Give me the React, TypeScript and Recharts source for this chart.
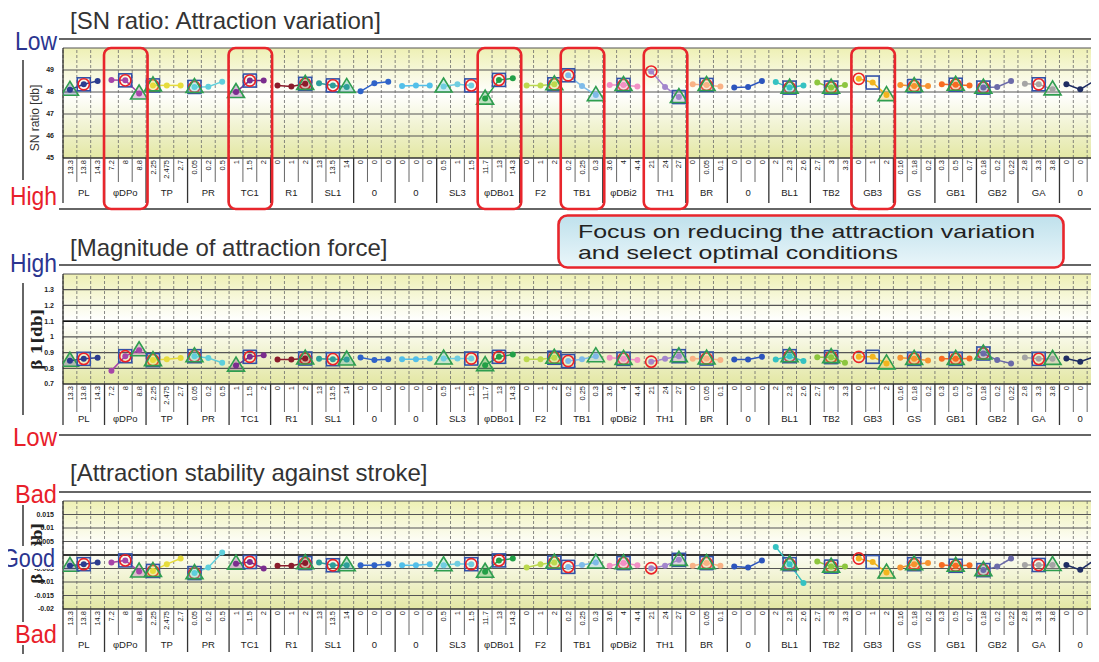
import React from "react";
import { LineChart, Line, XAxis, YAxis, CartesianGrid, ReferenceLine } from "recharts";

// ---------------- DATA ----------------
const factors = ["PL","φDPo","TP","PR","TC1","R1","SL1","0","0","SL3","φDBo1","F2","TB1","φDBi2","TH1","BR","0","BL1","TB2","GB3","GS","GB1","GB2","GA","0"];

const levelLabels = [
  ["13.3","13.8","14.3"],["7.2","8","8.8"],["2.25","2.475","2.7"],["0.05","0.2","0.5"],
  ["1","1.5","2"],["0","1","2"],["13","13.5","14"],["0","0","0"],["0","0","0"],
  ["0.5","1","1.5"],["11.7","13","14.3"],["0","1","2"],["0.2","0.25","0.3"],
  ["3.6","4","4.4"],["21","24","27"],["0","0.05","0.1"],["0","0","0"],
  ["2","2.3","2.6"],["2.7","3","3.3"],["0","1","2"],["0.16","0.18","0.2"],
  ["0.3","0.5","0.7"],["0.18","0.2","0.22"],["2.8","3.3","3.8"],["0","0","0"],
];

const snRatio = [
  [48.1,48.35,48.5],[48.55,48.53,47.93],[48.3,48.3,48.3],[48.23,48.24,48.47],
  [48.0,48.52,48.52],[48.3,48.25,48.37],[48.4,48.3,48.23],[48.03,48.4,48.47],
  [48.27,48.3,48.3],[48.25,48.35,48.3],[47.7,48.55,48.62],[48.3,48.3,48.35],
  [48.76,48.27,47.86],[48.32,48.32,48.25],[48.93,48.23,47.77],[48.35,48.32,48.25],
  [48.2,48.23,48.5],[48.45,48.2,48.3],[48.43,48.2,48.32],[48.6,48.43,47.86],
  [48.32,48.27,48.27],[48.35,48.33,48.3],[48.2,48.23,48.5],[48.38,48.35,48.12],
  [48.35,48.12,48.5],
];

const beta1 = [
  [0.848,0.86,0.867],[0.785,0.877,0.915],[0.852,0.858,0.865],[0.877,0.865,0.835],
  [0.817,0.873,0.883],[0.856,0.856,0.862],[0.86,0.858,0.856],[0.869,0.852,0.858],
  [0.858,0.858,0.862],[0.862,0.862,0.862],[0.82,0.873,0.888],[0.858,0.858,0.867],
  [0.846,0.858,0.877],[0.867,0.86,0.852],[0.842,0.86,0.877],[0.86,0.862,0.852],
  [0.856,0.856,0.873],[0.856,0.877,0.846],[0.871,0.871,0.835],[0.873,0.873,0.831],
  [0.867,0.86,0.85],[0.86,0.86,0.862],[0.894,0.852,0.831],[0.869,0.86,0.86],
  [0.862,0.842,0.873],
];

const stability = [
  [-0.004,-0.0034,-0.0028],[-0.0028,-0.002,-0.0061],[-0.0059,-0.0034,-0.0013],[-0.0067,-0.0046,0.0009],
  [-0.0032,-0.0026,-0.005],[-0.004,-0.004,-0.003],[-0.0028,-0.0038,-0.0038],[-0.0038,-0.0038,-0.0034],
  [-0.0038,-0.0038,-0.0034],[-0.0038,-0.0032,-0.0034],[-0.0062,-0.002,-0.0013],[-0.0046,-0.0034,-0.0028],
  [-0.0044,-0.0037,-0.0028],[-0.004,-0.003,-0.0038],[-0.0049,-0.004,-0.0018],[-0.004,-0.003,-0.004],
  [-0.0043,-0.0046,-0.002],[0.003,-0.0034,-0.0104],[-0.0024,-0.0043,-0.0043],[-0.0013,-0.0026,-0.0065],
  [-0.0046,-0.0034,-0.003],[-0.0037,-0.004,-0.0038],[-0.0056,-0.0043,-0.0013],[-0.0037,-0.0037,-0.0037],
  [-0.0037,-0.0055,-0.002],
];

// marker levels per factor (-1 = none)
const triLevel =  [0,2,0,0,0,2,2,-1,-1,0,0,2,2,1,2,1,-1,1,1,2,1,1,0,2,-1];
const sqLevel =   [1,1,0,0,1,2,1,-1,-1,2,1,2,0,1,2,1,-1,1,1,1,1,1,0,1,-1];
const circLevel = [1,1,0,0,1,2,1,-1,-1,2,1,2,0,1,0,1,-1,1,1,0,1,1,0,1,-1];

const highlighted = [1,4,10,12,14,19];

const factorColors = ["#2c3d8f","#a645a8","#e6dc3c","#5fcfdc","#7b2d8e","#8b1c2c","#2e9e9a","#2f63c9","#52bfe9","#70cde0","#23a047","#bcd94f","#7fbbe9","#f290c4","#a386cc","#f9b286","#2c55bd","#35c2c2","#8dc63f","#f2b51f","#f7932f","#f76b22","#6b6aa9","#a5a5a5","#1f2d63"];

const snTicks = [45,46,47,48,49,50];
const betaTicks = [0.7,0.8,0.9,1,1.1,1.2,1.3,1.4];
const stabTicks = [-0.02,-0.015,-0.01,-0.005,0,0.005,0.01,0.015,0.02];

// ---------------- LAYOUT ----------------
const LEFT_M = 43, YW = 20, CHART_W = 1102, RIGHT_M = 1, TOP_M = 6;
const PLOT_W = CHART_W - LEFT_M - YW - RIGHT_M;
const PLOT_X = LEFT_M + YW;
const LVL_W = PLOT_W / 75;
const FAC_W = LVL_W * 3;
const FONT = '"Liberation Sans", Arial, "DejaVu Sans", sans-serif';
const LVL_AX = "axA";
const FAC_AX = "axB";

type Cfg = {
  id: string; top: number; plotH: number; lvlH: number; facH: number; divExtra: number; labDy: number;
  domain: [number, number]; ticks: number[]; fmt: (v: number) => string; series: number[][]; dark: number[];
};

const panels: Cfg[] = [
  { id: "p1", top: 48, plotH: 110, lvlH: 24, facH: 27, divExtra: 21, labDy: 14, domain: [45, 50], ticks: snTicks,
    fmt: (v) => (v === 50 ? "" : String(v)), series: snRatio, dark: [] },
  { id: "p2", top: 274, plotH: 110, lvlH: 28, facH: 23, divExtra: 13, labDy: 10, domain: [0.7, 1.4], ticks: betaTicks,
    fmt: (v) => (Math.abs(v - 1.4) < 1e-9 ? "" : String(v)), series: beta1, dark: [1.1] },
  { id: "p3", top: 501, plotH: 108, lvlH: 26, facH: 26, divExtra: 17, labDy: 13, domain: [-0.02, 0.02], ticks: stabTicks,
    fmt: (v) => String(v), series: stability, dark: [0] },
];

const levelTicks = Array.from({ length: 75 }, (_, i) => i);
const factorTicks = factors.map((_, f) => f * 3 + 1);
const boundaries = Array.from({ length: 76 }, (_, i) => i - 0.5);

function renderDot(p: any, f: number) {
  const { cx, cy, payload, index } = p;
  const key = `d${f}-${index}`;
  if (cx == null || cy == null || payload == null) return <g key={key} />;
  const l = payload.l;
  const c = factorColors[f];
  return (
    <g key={key}>
      {sqLevel[f] === l && <rect x={cx - 6.5} y={cy - 6.5} width={13} height={13} fill="none" stroke="#3352a8" strokeWidth={1.6} />}
      {circLevel[f] === l && <circle cx={cx} cy={cy} r={5.6} fill="none" stroke="#ec2227" strokeWidth={1.6} />}
      <circle cx={cx} cy={cy} r={3} fill={c} />
      {triLevel[f] === l && (
        <polygon points={`${cx},${cy - 8.5} ${cx - 8.5},${cy + 5.5} ${cx + 8.5},${cy + 5.5}`} fill={c} fillOpacity={0.3} stroke="#2f9e4f" strokeWidth={1.6} />
      )}
    </g>
  );
}

function Panel({ cfg }: { cfg: Cfg }) {
  const rows = factors.map((_, f) => cfg.series[f].map((v, l) => ({ x: f * 3 + l, v, l })));
  const half = LVL_W / 2;
  const LevelTick = (p: any) => {
    const { x, y, payload } = p;
    const i = payload.value;
    const f = Math.floor(i / 3);
    const l = i % 3;
    const endFac = l === 2;
    return (
      <g>
        <text transform={`translate(${x + 2.6},${y + 2}) rotate(-90)`} textAnchor="end" fontSize={7.5} fill="#222" fontFamily={FONT}>
          {levelLabels[f][l]}
        </text>
        <line x1={x + half} x2={x + half} y1={y} y2={y + cfg.lvlH + (endFac ? cfg.divExtra : 0)} stroke={endFac ? "#333" : "#555"} strokeWidth={endFac ? 1.3 : 0.9} />
        {i === 0 && <line x1={x - half} x2={x - half} y1={y} y2={y + cfg.lvlH + cfg.divExtra} stroke="#333" strokeWidth={1.3} />}
      </g>
    );
  };
  const FactorTick = (p: any) => {
    const { x, y, payload } = p;
    const f = (payload.value - 1) / 3;
    return (
      <text x={x} y={y + cfg.labDy} textAnchor="middle" fontSize={9.5} fill="#222" fontFamily={FONT}>
        {factors[f]}
      </text>
    );
  };
  return (
    <div style={{ position: "absolute", left: 0, top: cfg.top - TOP_M }}>
      <LineChart width={CHART_W} height={TOP_M + cfg.plotH + cfg.lvlH + cfg.facH} margin={{ top: TOP_M, right: RIGHT_M, bottom: 0, left: LEFT_M }}>
        <defs>
          <linearGradient id={`bg${cfg.id}`} x1="0" y1="0" x2="0" y2="1">
            <stop offset="0%" stopColor="#eef0b4" />
            <stop offset="42%" stopColor="#ffffff" />
            <stop offset="100%" stopColor="#e3e7a4" />
          </linearGradient>
        </defs>
        <CartesianGrid xAxisId={LVL_AX} vertical={false} stroke="#555" strokeWidth={1.2} fill={`url(#bg${cfg.id})`} fillOpacity={1} />
        <XAxis xAxisId={LVL_AX} dataKey="x" type="number" domain={[-0.5, 74.5]} ticks={levelTicks} interval={0}
          height={cfg.lvlH} tickLine={false} tickSize={0} tickMargin={0} allowDataOverflow
          axisLine={{ stroke: "#222", strokeWidth: 1.2 }} tick={(p: any) => <LevelTick {...p} />} />
        <XAxis xAxisId={FAC_AX} dataKey="x" type="number" domain={[-0.5, 74.5]} ticks={factorTicks} interval={0}
          height={cfg.facH} tickLine={false} tickSize={0} tickMargin={0} axisLine={false} allowDataOverflow
          tick={(p: any) => <FactorTick {...p} />} />
        <YAxis type="number" domain={cfg.domain} ticks={cfg.ticks} interval={0} width={YW} allowDataOverflow
          tickLine={false} tickMargin={3} axisLine={{ stroke: "#222", strokeWidth: 1.2 }}
          tick={{ fontSize: 7, fontWeight: "bold", fill: "#222", fontFamily: FONT }} tickFormatter={cfg.fmt} />
        {boundaries.map((b) => (
          <ReferenceLine key={`b${b}`} xAxisId={LVL_AX} x={b} stroke="#6a6a6a" strokeDasharray="3 2" strokeWidth={0.8} />
        ))}
        {cfg.dark.map((d) => (
          <ReferenceLine key={`dk${d}`} xAxisId={LVL_AX} y={d} stroke="#111" strokeWidth={1.5} />
        ))}
        {factors.map((_, f) => (
          <Line key={`l${f}`} xAxisId={LVL_AX} data={rows[f]} dataKey="v" type="linear" stroke={factorColors[f]} strokeWidth={1.5}
            dot={(p: any) => renderDot(p, f)} activeDot={false} isAnimationActive={false} />
        ))}
      </LineChart>
    </div>
  );
}

function SideLabel({ x, y, w, text, color, bgY, bgH }: any) {
  return (
    <g>
      <rect x={x - 2} y={bgY} width={w + 4} height={bgH} fill="#fff" />
      <text x={x} y={y} fontSize={26} fill={color} fontFamily={FONT} textLength={w} lengthAdjust="spacingAndGlyphs">{text}</text>
    </g>
  );
}

export default function App() {
  const blue = "#2b3590";
  const red = "#e8202a";
  return (
    <div style={{ position: "relative", width: 1099, height: 662, margin: -8, overflow: "hidden", background: "#fff", fontFamily: FONT }}>
      {panels.map((c) => <Panel key={c.id} cfg={c} />)}
      <svg width={1099} height={662} style={{ position: "absolute", left: 0, top: 0, pointerEvents: "none" }}>
        <defs>
          <linearGradient id="noteBg" x1="0" y1="0" x2="0" y2="1">
            <stop offset="0%" stopColor="#bfe1ec" />
            <stop offset="100%" stopColor="#eaf6fa" />
          </linearGradient>
        </defs>
        {/* titles */}
        <text x={70} y={29} fontSize={24} fill="#333" fontFamily={FONT}>[SN ratio: Attraction variation]</text>
        <text x={70} y={256} fontSize={24} fill="#333" fontFamily={FONT}>[Magnitude of attraction force]</text>
        <text x={70} y={481} fontSize={24} fill="#333" fontFamily={FONT}>[Attraction stability against stroke]</text>
        {/* frame lines */}
        <line x1={57} x2={1099} y1={39} y2={39} stroke="#333" strokeWidth={1.5} />
        <line x1={57} x2={1099} y1={209} y2={209} stroke="#333" strokeWidth={1.5} />
        <line x1={57} x2={1099} y1={265} y2={265} stroke="#333" strokeWidth={1.5} />
        <line x1={57} x2={1099} y1={435} y2={435} stroke="#333" strokeWidth={1.5} />
        <line x1={57} x2={1099} y1={492} y2={492} stroke="#333" strokeWidth={1.5} />
        <line x1={57} x2={1099} y1={661} y2={661} stroke="#333" strokeWidth={1.5} />
        <line x1={23} x2={23} y1={60} y2={180} stroke="#333" strokeWidth={1.5} />
        <line x1={23} x2={23} y1={283} y2={415} stroke="#333" strokeWidth={1.5} />
        <line x1={23} x2={23} y1={505} y2={660} stroke="#333" strokeWidth={1.5} />
        {/* y axis titles */}
        <text transform="translate(39,118) rotate(-90)" textAnchor="middle" fontSize={12} fill="#333" fontFamily={FONT}>SN ratio [db]</text>
        <text transform="translate(42,339) rotate(-90)" textAnchor="middle" fontSize={15} fontWeight="bold" fill="#222" fontFamily="'DejaVu Serif', serif">β 1[db]</text>
        <text transform="translate(42,553) rotate(-90)" textAnchor="middle" fontSize={15} fontWeight="bold" fill="#222" fontFamily="'DejaVu Serif', serif">β 2[db]</text>
        {/* side labels */}
        <SideLabel x={15} y={50} w={42} text="Low" color={blue} bgY={30} bgH={24} />
        <SideLabel x={10} y={205} w={47} text="High" color={red} bgY={185} bgH={27} />
        <SideLabel x={10} y={272} w={47} text="High" color={blue} bgY={252} bgH={27} />
        <SideLabel x={13} y={446} w={44} text="Low" color={red} bgY={426} bgH={23} />
        <SideLabel x={15} y={503} w={42} text="Bad" color={red} bgY={482} bgH={23} />
        <SideLabel x={2} y={567} w={53} text="Good" color={blue} bgY={546} bgH={23} />
        <SideLabel x={15} y={643} w={42} text="Bad" color={red} bgY={622} bgH={23} />
        {/* highlight boxes */}
        {highlighted.map((f) => (
          <rect key={`h${f}`} x={PLOT_X + f * FAC_W - 0.5} y={48} width={FAC_W + 2} height={161} rx={7} ry={7} fill="none" stroke="#e8262c" strokeWidth={2.6} />
        ))}
        {/* note */}
        <rect x={558.5} y={215.5} width={505} height={52} rx={9} ry={9} fill="url(#noteBg)" stroke="#e8262c" strokeWidth={2.6} />
        <text x={578} y={238} fontSize={19} fill="#222" fontFamily={FONT} textLength={457} lengthAdjust="spacingAndGlyphs">Focus on reducing the attraction variation</text>
        <text x={578} y={259} fontSize={19} fill="#222" fontFamily={FONT} textLength={320} lengthAdjust="spacingAndGlyphs">and select optimal conditions</text>
      </svg>
    </div>
  );
}
